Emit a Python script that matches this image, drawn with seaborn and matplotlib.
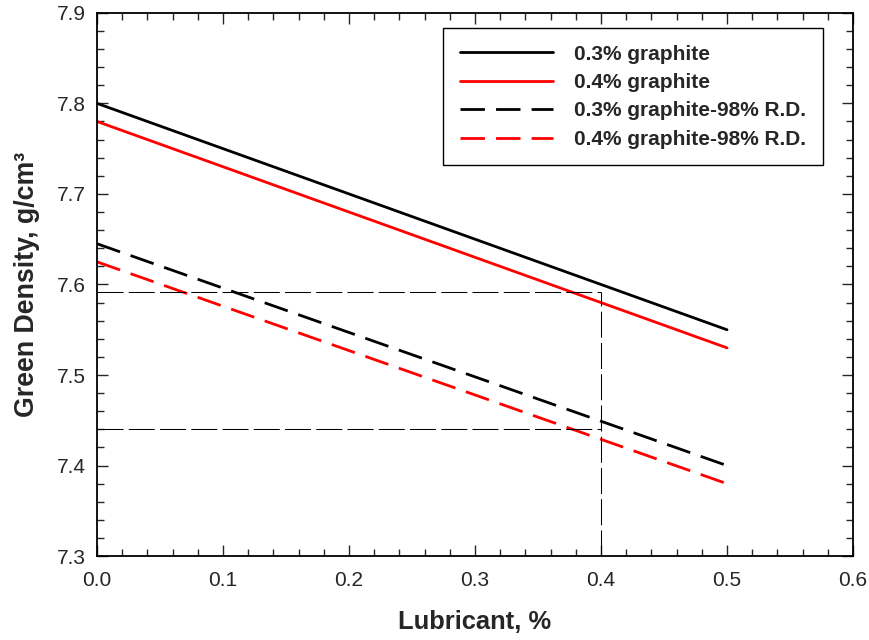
import matplotlib
matplotlib.use("Agg")
import matplotlib.pyplot as plt
import numpy as np
import pandas as pd
import seaborn as sns
from matplotlib.ticker import MultipleLocator

# data
lubricant = [0.0, 0.5]
g03 = [7.80, 7.55]
g04 = [7.78, 7.53]
g03_rd = [7.645, 7.40]
g04_rd = [7.625, 7.38]

series_names = ["0.3% graphite", "0.4% graphite",
                "0.3% graphite-98% R.D.", "0.4% graphite-98% R.D."]
series_colors = ["black", "#ff0000", "black", "#ff0000"]
series_dashed = [False, False, True, True]

# guide lines at 0.4% lubricant
guide_x = 0.4
guide_y = [7.592, 7.44]

df = pd.DataFrame({
    "Lubricant": lubricant * 4,
    "Density": g03 + g04 + g03_rd + g04_rd,
    "series": sum([[n] * 2 for n in series_names], []),
})

sns.set_style("ticks")
plt.rcParams['font.family'] = ['Liberation Sans', 'DejaVu Sans']

fig = plt.figure(figsize=(8.7, 6.4), dpi=100)
ax = fig.add_axes([0.1115, 0.131, 0.869, 0.849])

palette = dict(zip(series_names, series_colors))
dashes = {n: ((8.8, 4) if d else "") for n, d in zip(series_names, series_dashed)}

sns.lineplot(data=df, x="Lubricant", y="Density", hue="series", style="series",
             palette=palette, dashes=dashes, linewidth=2.0, ax=ax, legend=False)

# thin dashed guide lines
for gy in guide_y:
    ax.plot([0, guide_x], [gy, gy], color="black", lw=0.75,
            linestyle=(0, (25, 5)))
ax.plot([guide_x, guide_x], [7.3, guide_y[0]], color="black", lw=0.75,
        linestyle=(0, (25, 5)))

ax.set_xlim(0, 0.6)
ax.set_ylim(7.3, 7.9)
ax.xaxis.set_major_locator(MultipleLocator(0.1))
ax.xaxis.set_minor_locator(MultipleLocator(0.02))
ax.yaxis.set_major_locator(MultipleLocator(0.1))
ax.yaxis.set_minor_locator(MultipleLocator(0.02))
ax.set_xticklabels([f"{v:.1f}" for v in ax.get_xticks()])
ax.set_yticklabels([f"{v:.1f}" for v in ax.get_yticks()])
ax.tick_params(which="both", direction="in", top=True, right=True,
               labelsize=15, width=1.0)
ax.tick_params(axis="x", pad=11)
ax.tick_params(axis="y", pad=8)
ax.tick_params(which="major", length=8)
ax.tick_params(which="minor", length=5)
for s in ax.spines.values():
    s.set_linewidth(1.3)
    s.set_color("black")

ax.set_xlabel("Lubricant, %", fontsize=18.4, fontweight="bold", labelpad=14)
ax.set_ylabel("Green Density, g/cm³", fontsize=19.3, fontweight="bold", labelpad=12)

handles = []
for n, c, d in zip(series_names, series_colors, series_dashed):
    h, = ax.plot([], [], color=c, lw=2.0,
                 linestyle=(0, (8.8, 4)) if d else "-", label=n)
    handles.append(h)
leg = ax.legend(handles=handles, loc="upper right", bbox_to_anchor=(0.960, 0.972),
                prop={"weight": "bold", "size": 15},
                handlelength=4.5, handletextpad=1.0, labelspacing=0.45,
                borderpad=0.8, borderaxespad=0, fancybox=False, framealpha=1)
leg.get_frame().set_edgecolor("black")
leg.get_frame().set_linewidth(1.0)

fig.savefig("out.png", dpi=100)
